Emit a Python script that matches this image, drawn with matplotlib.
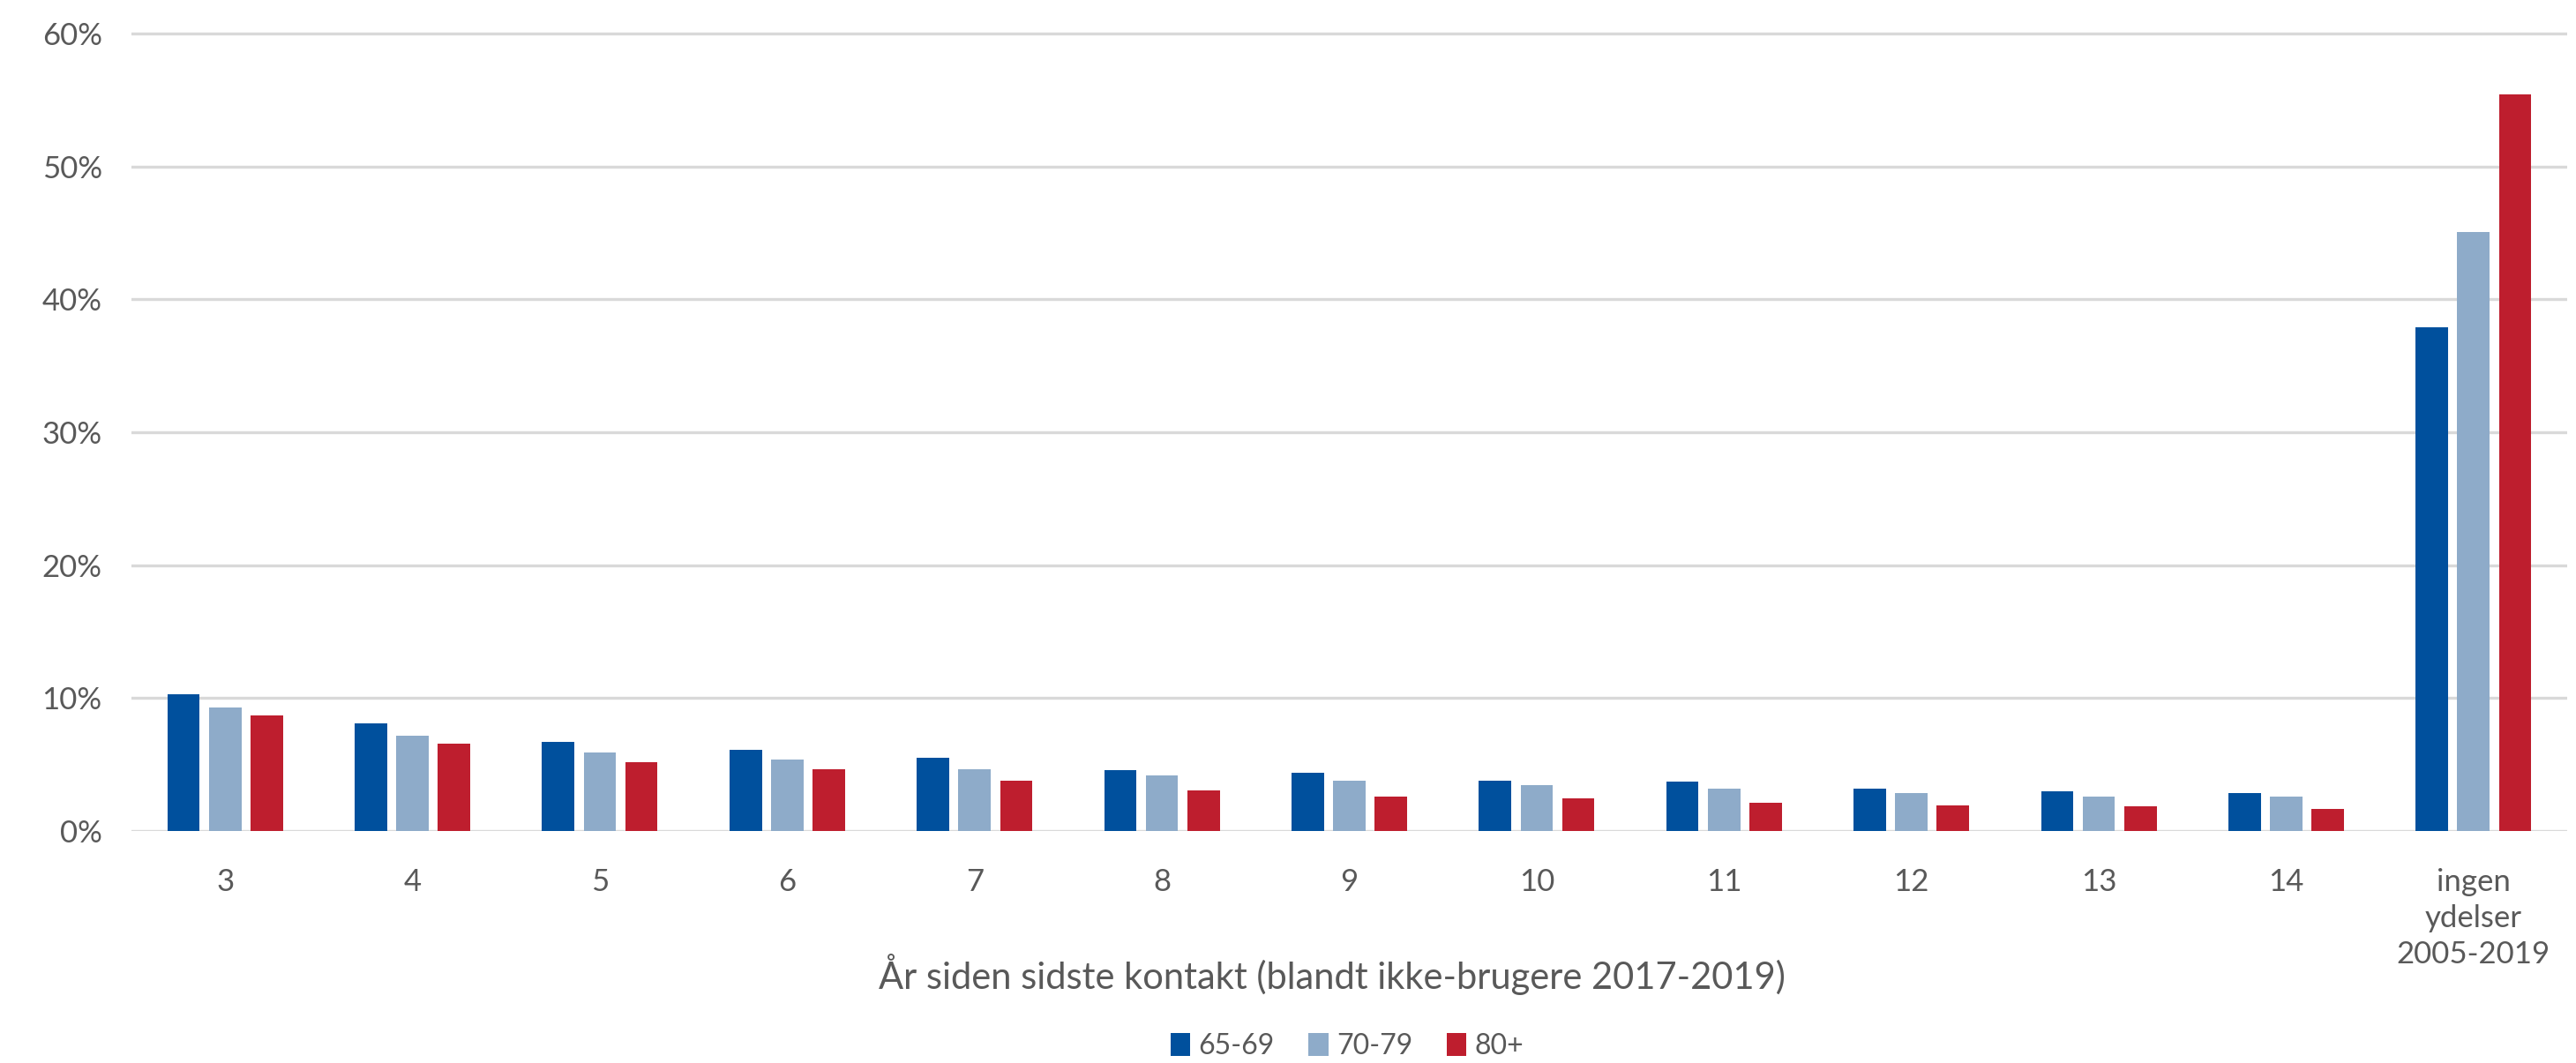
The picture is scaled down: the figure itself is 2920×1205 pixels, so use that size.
import numpy as np
import matplotlib
matplotlib.use("Agg")
import matplotlib.pyplot as plt
from matplotlib.patches import Patch

plt.rcParams["font.family"] = ["Lato", "DejaVu Sans"]

# data (share of non-users, by years since last contact)
categories = ["3", "4", "5", "6", "7", "8", "9", "10", "11", "12", "13", "14",
              "ingen\nydelser\n2005-2019"]
series_names = ["65-69", "70-79", "80+"]
age_65_69 = [10.3, 8.1, 6.7, 6.1, 5.5, 4.6, 4.35, 3.76, 3.75, 3.16, 2.99, 2.87, 37.9]
age_70_79 = [9.3, 7.2, 5.9, 5.35, 4.65, 4.2, 3.76, 3.45, 3.18, 2.87, 2.57, 2.57, 45.1]
age_80p = [8.7, 6.55, 5.2, 4.65, 3.77, 3.03, 2.59, 2.44, 2.15, 1.95, 1.83, 1.66, 55.4]
colors = ["#00509D", "#8EABC9", "#BE1E2E"]

text_col = "#595959"

fig = plt.figure(figsize=(29.2, 12.05), dpi=100)
ax = fig.add_axes([149 / 2920, 1 - 942 / 1205, (2910 - 149) / 2920, (942 - 35) / 1205])

x = np.arange(len(categories))
pitch = 0.222
width = 0.173
for i, (vals, col) in enumerate(zip([age_65_69, age_70_79, age_80p], colors)):
    ax.bar(x + (i - 1) * pitch, np.array(vals) / 100, width=width, color=col,
           zorder=3, label=series_names[i])

ax.set_xlim(-0.5, len(categories) - 0.5)
ax.set_ylim(0, 0.602)
ax.set_yticks(np.arange(0, 0.61, 0.1))
ax.set_yticklabels([f"{int(round(v * 100))}%" for v in np.arange(0, 0.61, 0.1)])
ax.set_xticks(x)
ax.set_xticklabels(categories, linespacing=1.35)

ax.yaxis.grid(True, color="#D9D9D9", linewidth=2.4, zorder=0)
ax.set_axisbelow(True)
for s in ax.spines.values():
    s.set_visible(False)
ax.tick_params(axis="both", length=0, labelsize=25, labelcolor=text_col)
ax.tick_params(axis="y", pad=24)
ax.tick_params(axis="x", pad=30)

fig.text(1510 / 2920, 1 - 1104 / 1205, "År siden sidste kontakt (blandt ikke-brugere 2017-2019)",
         ha="center", va="center", fontsize=30, color=text_col)

handles = [Patch(facecolor=c, label=n) for c, n in zip(colors, series_names)]
fig.legend(handles=handles, loc="center", bbox_to_anchor=(1527 / 2920, 1 - 1186 / 1205),
           ncol=3, frameon=False, fontsize=23, labelcolor=text_col,
           handlelength=0.7, handleheight=0.9, handletextpad=0.3, columnspacing=1.2)

fig.savefig("out.png", dpi=100, facecolor="white")
